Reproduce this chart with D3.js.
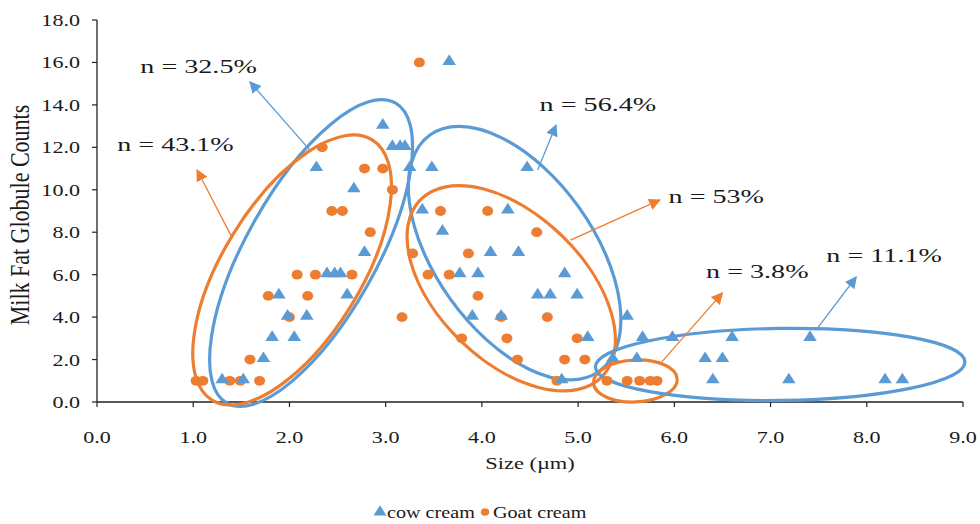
<!DOCTYPE html>
<html><head><meta charset="utf-8">
<script src="https://cdn.jsdelivr.net/npm/d3@7"></script>
<style>
html,body{margin:0;padding:0;background:#fff;}
text{font-family:"Liberation Serif","Times New Roman",serif;fill:#1a1a1a;}
</style></head>
<body><svg id="c" width="980" height="524"></svg>
<script>
// ---- data ----
const xTicks = [0,1,2,3,4,5,6,7,8,9];
const yTicks = [0,2,4,6,8,10,12,14,16,18];
const cowX = [1.30,1.52,1.73,1.82,2.05,1.98,2.18,1.89,2.60,2.39,2.47,2.53,2.78,2.67,2.28,2.97,3.07,3.15,3.20,3.25,3.48,3.38,3.59,3.77,3.96,3.90,3.66,4.47,4.27,4.09,4.38,4.86,4.58,4.71,4.99,4.20,5.10,4.83,5.51,5.67,5.98,6.60,7.41,5.36,5.61,6.32,6.50,6.40,7.19,8.19,8.37];
const cowY = [1,1,2,3,3,4,4,5,5,6,6,6,7,10,11,13,12,12,12,11,11,9,8,6,6,4,16,11,9,7,7,6,5,5,5,4,3,1,4,3,3,3,3,2,2,2,2,1,1,1,1];
const goatX = [1.03,1.10,1.38,1.49,1.69,1.59,1.78,2.00,2.08,2.27,2.19,2.34,2.78,2.97,3.07,2.44,2.55,2.84,3.28,3.86,2.65,3.44,3.66,3.96,3.17,3.79,3.35,3.57,4.06,4.57,4.20,4.68,4.26,4.99,4.37,4.86,5.07,4.78,5.30,5.51,5.64,5.75,5.82];
const goatY = [1,1,1,1,1,2,5,4,6,6,5,12,11,11,10,9,9,8,7,7,6,6,6,5,4,3,16,9,9,8,4,4,3,3,2,2,2,1,1,1,1,1,1];
// ellipses: major-axis tips (data units) + half width (px)
const ellSeries = ["cow","goat","cow","goat","goat","cow"];
const ellTip1X = [1.35,1.195,3.46,3.36,5.16,5.18];
const ellTip1Y = [-0.05,0.09,12.58,9.52,0.90,1.65];
const ellTip2X = [3.10,2.86,5.22,5.25,6.03,9.02];
const ellTip2Y = [14.09,12.35,1.45,1.20,1.08,1.89];
const ellHalfW = [65,69,79,73,21,36];
// annotation arrows (data units) and labels
const arrSeries = ["cow","goat","cow","goat","goat","cow"];
const arrX0 = [2.21,1.40,4.58,4.92,5.87,7.49];
const arrY0 = [11.88,7.78,10.93,7.63,1.89,3.49];
const arrX1 = [1.59,1.04,4.77,5.85,6.50,7.89];
const arrY1 = [15.08,10.93,13.05,9.52,5.14,5.89];
const labels = ["n = 32.5%","n = 43.1%","n = 56.4%","n = 53%","n = 3.8%","n = 11.1%"];
const labX = [0.45,0.21,4.60,5.94,6.33,7.58];
const labY = [15.5,11.83,13.71,9.38,5.84,6.6];
const legendNames = ["cow cream","Goat cream"];

const colors = {cow:"#5B9BD5", goat:"#ED7D31"};
const svg = d3.select("#c");
const x = d3.scaleLinear().domain([0,9]).range([97,963]);
const y = d3.scaleLinear().domain([0,18]).range([402,20]);

function stext(g, px, py, str, size, sx, anchor){
  const gg = g.append("g").attr("transform",`translate(${px},${py}) scale(${sx},1)`);
  return gg.append("text").attr("x",0).attr("y",0).attr("font-size",size).attr("text-anchor",anchor||"start").text(str);
}

// axes
const ax = svg.append("g");
ax.append("line").attr("x1",x(0)).attr("x2",x(9)).attr("y1",y(0)).attr("y2",y(0)).attr("stroke","#222").attr("stroke-width",1.3);
ax.append("line").attr("x1",x(0)).attr("x2",x(0)).attr("y1",y(0)).attr("y2",y(18)).attr("stroke","#222").attr("stroke-width",1.3);
xTicks.forEach(t=>{
  ax.append("line").attr("x1",x(t)).attr("x2",x(t)).attr("y1",y(0)).attr("y2",y(0)+5).attr("stroke","#222").attr("stroke-width",1.2);
  stext(ax, x(t), 443, t.toFixed(1), 17, 1.3, "middle");
});
yTicks.forEach(t=>{
  ax.append("line").attr("x1",x(0)-5).attr("x2",x(0)).attr("y1",y(t)).attr("y2",y(t)).attr("stroke","#222").attr("stroke-width",1.2);
  stext(ax, 80, y(t)+6, t.toFixed(1), 17, 1.3, "end");
});
// axis titles
stext(ax, 530, 469, "Size (\u00b5m)", 17.5, 1.28, "middle");
ax.append("g").attr("transform","translate(29,215) scale(1.25,1) rotate(-90)")
  .append("text").attr("font-size",22).attr("text-anchor","middle").text("Milk Fat Globule Counts");

// ellipses
const eg = svg.append("g");
ellSeries.forEach((s,i)=>{
  const p1=[x(ellTip1X[i]),y(ellTip1Y[i])], p2=[x(ellTip2X[i]),y(ellTip2Y[i])];
  const cx=(p1[0]+p2[0])/2, cy=(p1[1]+p2[1])/2;
  const a=Math.hypot(p2[0]-p1[0],p2[1]-p1[1])/2;
  const ang=Math.atan2(p2[1]-p1[1],p2[0]-p1[0])*180/Math.PI;
  eg.append("ellipse").attr("cx",cx).attr("cy",cy).attr("rx",a).attr("ry",ellHalfW[i])
    .attr("transform",`rotate(${ang},${cx},${cy})`)
    .attr("fill","none").attr("stroke",colors[s]).attr("stroke-width",3.2);
});

// arrows
const defs = svg.append("defs");
["cow","goat"].forEach(s=>{
  defs.append("marker").attr("id","ah-"+s).attr("viewBox","0 0 10 10").attr("refX",9).attr("refY",5)
    .attr("markerWidth",12).attr("markerHeight",12).attr("markerUnits","userSpaceOnUse").attr("orient","auto")
    .append("path").attr("d","M0,0 L10,5 L0,10 Z").attr("fill",colors[s]);
});
arrSeries.forEach((s,i)=>{
  svg.append("line").attr("x1",x(arrX0[i])).attr("y1",y(arrY0[i])).attr("x2",x(arrX1[i])).attr("y2",y(arrY1[i]))
    .attr("stroke",colors[s]).attr("stroke-width",1.3).attr("marker-end",`url(#ah-${s})`);
});
labels.forEach((l,i)=>{ stext(svg, x(labX[i]), y(labY[i]), l, 19, 1.48, "start"); });

// points
const tri = d3.symbol().type(d3.symbolTriangle).size(66);
const pg = svg.append("g");
goatX.forEach((v,i)=>{
  pg.append("ellipse").attr("cx",x(v)).attr("cy",y(goatY[i])).attr("rx",5.5).attr("ry",4.9).attr("fill",colors.goat);
});
cowX.forEach((v,i)=>{
  pg.append("path").attr("d",tri()).attr("transform",`translate(${x(v)},${y(cowY[i])-1}) scale(1.1,1)`).attr("fill",colors.cow);
});

// legend
const lg = svg.append("g");
lg.append("path").attr("d",d3.symbol().type(d3.symbolTriangle).size(60)()).attr("transform","translate(380,512) scale(1.1,1)").attr("fill",colors.cow);
stext(lg, 387, 518, legendNames[0], 16, 1.26, "start");
lg.append("ellipse").attr("cx",485).attr("cy",512).attr("rx",4.2).attr("ry",3.8).attr("fill",colors.goat);
stext(lg, 493, 518, legendNames[1], 16, 1.26, "start");
</script></body></html>
